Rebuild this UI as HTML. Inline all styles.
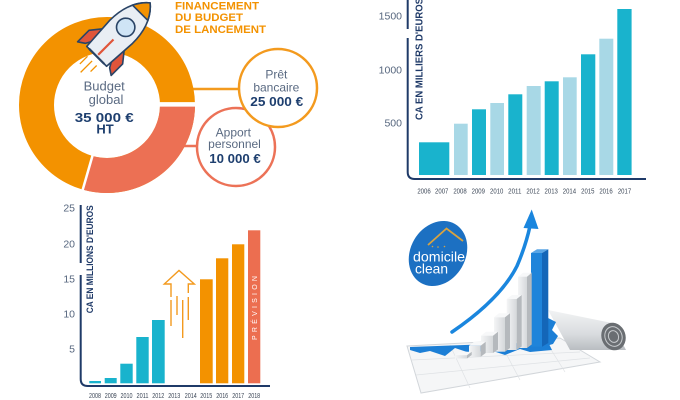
<!DOCTYPE html>
<html><head><meta charset="utf-8"><style>
html,body{margin:0;padding:0;background:#fff;}
svg{display:block;font-family:"Liberation Sans",sans-serif;}
</style></head><body>
<svg width="680" height="400" viewBox="0 0 680 400" xmlns="http://www.w3.org/2000/svg">
<rect width="680" height="400" fill="#fff"/>

<!-- ========== TOP-LEFT: donut ========== -->
<line x1="185" y1="89" x2="240" y2="89" stroke="#f39a1e" stroke-width="2.5"/>
<line x1="180" y1="146" x2="198" y2="146" stroke="#ec7257" stroke-width="2.5"/>
<circle cx="107" cy="105" r="70.5" fill="none" stroke="#f39200" stroke-width="35"/>
<path d="M177.5,105 A70.5,70.5 0 0 1 87.57,172.77" fill="none" stroke="#ec7054" stroke-width="35"/>
<line x1="155" y1="104.4" x2="198" y2="104.4" stroke="#fff" stroke-width="4.5"/>
<line x1="92.7" y1="155" x2="82.2" y2="191.5" stroke="#fff" stroke-width="2.5"/>

<!-- rocket -->
<g transform="translate(115,38) rotate(45) scale(1.08)" stroke="#2a4466" stroke-width="1.5" stroke-linejoin="round">
  <line x1="-6" y1="30" x2="-6" y2="40" stroke="#f39200" stroke-width="1.2"/>
  <line x1="0" y1="30" x2="0" y2="45" stroke="#f39200" stroke-width="1.2"/>
  <line x1="6" y1="30" x2="6" y2="38" stroke="#f39200" stroke-width="1.2"/>
  <path d="M-14,2 L-22,12 L-22,27 L-16,23 L-12,16 Z" fill="#e0553a"/>
  <path d="M14,2 L22,12 L22,27 L16,23 L12,16 Z" fill="#e0553a"/>
  <path d="M0,-46 C12,-36 15,-22 15,-8 L13,24 L-13,24 L-15,-8 C-15,-22 -12,-36 0,-46 Z" fill="#e9eef4"/>
  <path d="M0,-46 C5,-42 8,-37 10,-33 L-10,-33 C-8,-37 -5,-42 0,-46 Z" fill="#f39200"/>
  <circle cx="0" cy="-14" r="8.5" fill="#cfe4f5"/>
  <line x1="0" y1="2" x2="0" y2="22" stroke="#e0553a" stroke-width="2"/>
  <line x1="-10" y1="24" x2="10" y2="24" stroke-width="2"/>
</g>

<text font-weight="bold" font-size="11" fill="#f39200">
  <tspan x="175" y="9.5" textLength="84" lengthAdjust="spacingAndGlyphs">FINANCEMENT</tspan>
  <tspan x="175" y="21" textLength="68" lengthAdjust="spacingAndGlyphs">DU BUDGET</tspan>
  <tspan x="175" y="33" textLength="91" lengthAdjust="spacingAndGlyphs">DE LANCEMENT</tspan>
</text>

<text text-anchor="middle" font-size="13" fill="#5a6a82">
  <tspan x="106" y="90.5">Budget</tspan>
  <tspan x="106" y="104">global</tspan>
</text>
<text text-anchor="middle" font-size="13" font-weight="bold" fill="#1e3f6f">
  <tspan x="106" y="122" textLength="59" lengthAdjust="spacingAndGlyphs">35 000 €</tspan>
  <tspan x="105" y="133.5">HT</tspan>
</text>

<circle cx="236" cy="147" r="39" fill="#fff" stroke="#ec7257" stroke-width="2.5"/>
<circle cx="278" cy="88" r="39" fill="#fff" stroke="#f39a1e" stroke-width="2.5"/>

<text text-anchor="middle" font-size="12" fill="#5a6a82">
  <tspan x="278" y="78.3">Prêt</tspan>
  <tspan x="278" y="91.7">bancaire</tspan>
  <tspan x="235" y="136.5">Apport</tspan>
  <tspan x="234.5" y="148">personnel</tspan>
</text>
<text text-anchor="middle" font-size="12.5" font-weight="bold" fill="#1e3f6f">
  <tspan x="278.5" y="106" textLength="53" lengthAdjust="spacingAndGlyphs">25 000 €</tspan>
  <tspan x="235" y="163" textLength="51.5" lengthAdjust="spacingAndGlyphs">10 000 €</tspan>
</text>

<!-- ========== TOP-RIGHT: bar chart ========== -->
<g fill="#19b3cd">
  <rect x="419" y="142.3" width="30.3" height="32.7"/>
  <rect x="472" y="109.3" width="14" height="65.7"/>
  <rect x="508.3" y="94.3" width="14" height="80.7"/>
  <rect x="544.7" y="81.3" width="14" height="93.7"/>
  <rect x="581" y="54.3" width="14.3" height="120.7"/>
  <rect x="617.3" y="9" width="14.3" height="166"/>
</g>
<g fill="#a8d8e6">
  <rect x="454" y="123.7" width="13.7" height="51.3"/>
  <rect x="490.3" y="103" width="13.7" height="72"/>
  <rect x="526.7" y="86" width="14" height="89"/>
  <rect x="563" y="77.3" width="13.7" height="97.7"/>
  <rect x="599.3" y="38.7" width="14" height="136.3"/>
</g>
<path d="M407.7,0 V29 M407.7,38 V172 Q407.7,179 414.7,179 H646" fill="none" stroke="#1f3a68" stroke-width="2"/>
<text transform="translate(422.5,120) rotate(-90)" font-size="10" font-weight="bold" fill="#1f3a68" textLength="122" lengthAdjust="spacingAndGlyphs">CA EN MILLIERS D'EUROS</text>
<g font-size="10.5" fill="#56667e" text-anchor="end">
  <text x="402" y="19.5">1500</text>
  <text x="402" y="73.5">1000</text>
  <text x="402" y="126.5">500</text>
</g>
<g font-size="7.5" fill="#3b4656" text-anchor="middle">
  <text x="424" y="193.5" textLength="13.3" lengthAdjust="spacingAndGlyphs">2006</text>
  <text x="441.7" y="193.5" textLength="13.3" lengthAdjust="spacingAndGlyphs">2007</text>
  <text x="460" y="193.5" textLength="13.3" lengthAdjust="spacingAndGlyphs">2008</text>
  <text x="478.3" y="193.5" textLength="13.3" lengthAdjust="spacingAndGlyphs">2009</text>
  <text x="496.7" y="193.5" textLength="13.3" lengthAdjust="spacingAndGlyphs">2010</text>
  <text x="514.8" y="193.5" textLength="13.3" lengthAdjust="spacingAndGlyphs">2011</text>
  <text x="533" y="193.5" textLength="13.3" lengthAdjust="spacingAndGlyphs">2012</text>
  <text x="551.2" y="193.5" textLength="13.3" lengthAdjust="spacingAndGlyphs">2013</text>
  <text x="569.4" y="193.5" textLength="13.3" lengthAdjust="spacingAndGlyphs">2014</text>
  <text x="587.8" y="193.5" textLength="13.3" lengthAdjust="spacingAndGlyphs">2015</text>
  <text x="606" y="193.5" textLength="13.3" lengthAdjust="spacingAndGlyphs">2016</text>
  <text x="624.5" y="193.5" textLength="13.3" lengthAdjust="spacingAndGlyphs">2017</text>
</g>

<!-- ========== BOTTOM-LEFT: bar chart ========== -->
<g fill="#19b3cd">
  <rect x="89.3" y="381" width="11.7" height="2.3"/>
  <rect x="104.7" y="378" width="12" height="5.3"/>
  <rect x="120.3" y="363.7" width="12.4" height="19.6"/>
  <rect x="136.3" y="337" width="12.4" height="46.3"/>
  <rect x="152" y="320" width="12.7" height="63.3"/>
</g>
<g fill="#f39200">
  <rect x="200" y="279.3" width="12.7" height="104"/>
  <rect x="216" y="258.3" width="12.3" height="125"/>
  <rect x="232" y="244.3" width="12.3" height="139"/>
</g>
<rect x="248" y="230.3" width="12.3" height="153" fill="#ec6e50"/>
<text transform="translate(257,340) rotate(-90)" font-size="7" fill="#fff" textLength="64" lengthAdjust="spacing">PRÉVISION</text>

<!-- arrow -->
<g fill="none" stroke="#f39a1e" stroke-width="1.4" stroke-linejoin="miter">
  <path d="M171,297 V284 H164.3 L179,270.5 L194.3,284 H188.3 V293"/>
  <line x1="171" y1="300" x2="171" y2="326"/>
  <line x1="177" y1="296" x2="177" y2="315"/>
  <line x1="182.7" y1="300" x2="182.7" y2="338"/>
  <line x1="188.3" y1="297" x2="188.3" y2="320"/>
</g>

<path d="M80.7,205 V263 M80.7,275 V379 Q80.7,386 87.7,386 H270" fill="none" stroke="#1f3a68" stroke-width="2"/>
<text transform="translate(93,313.3) rotate(-90)" font-size="9.5" font-weight="bold" fill="#1f3a68" textLength="108" lengthAdjust="spacingAndGlyphs">CA EN MILLIONS D'EUROS</text>
<g font-size="10.5" fill="#56667e" text-anchor="end">
  <text x="75" y="211.5">25</text>
  <text x="75" y="247.5">20</text>
  <text x="75" y="282.5">15</text>
  <text x="75" y="317.5">10</text>
  <text x="75" y="352.5">5</text>
</g>
<g font-size="7" fill="#3b4656" text-anchor="middle">
  <text x="95" y="398" textLength="12" lengthAdjust="spacingAndGlyphs">2008</text>
  <text x="110.7" y="398" textLength="12" lengthAdjust="spacingAndGlyphs">2009</text>
  <text x="126.5" y="398" textLength="12" lengthAdjust="spacingAndGlyphs">2010</text>
  <text x="142.5" y="398" textLength="12" lengthAdjust="spacingAndGlyphs">2011</text>
  <text x="158.3" y="398" textLength="12" lengthAdjust="spacingAndGlyphs">2012</text>
  <text x="174.3" y="398" textLength="12" lengthAdjust="spacingAndGlyphs">2013</text>
  <text x="190.8" y="398" textLength="12" lengthAdjust="spacingAndGlyphs">2014</text>
  <text x="206.3" y="398" textLength="12" lengthAdjust="spacingAndGlyphs">2015</text>
  <text x="222.2" y="398" textLength="12" lengthAdjust="spacingAndGlyphs">2016</text>
  <text x="238.2" y="398" textLength="12" lengthAdjust="spacingAndGlyphs">2017</text>
  <text x="254.2" y="398" textLength="12" lengthAdjust="spacingAndGlyphs">2018</text>
</g>

<!-- ========== BOTTOM-RIGHT: illustration ========== -->
<defs>
  <linearGradient id="fr" x1="0" y1="0" x2="1" y2="0">
    <stop offset="0" stop-color="#f4f5f6"/><stop offset="1" stop-color="#d5d8db"/>
  </linearGradient>
  <linearGradient id="roll" x1="0" y1="0" x2="0" y2="1">
    <stop offset="0" stop-color="#f2f3f4"/><stop offset="0.6" stop-color="#d9dcdf"/><stop offset="1" stop-color="#b9bdc1"/>
  </linearGradient>
</defs>
<!-- paper -->
<polygon points="407,346 560,338 600,362 421,393" fill="#f5f6f7" stroke="#d2d6da" stroke-width="1"/>
<g stroke="#dfe2e5" stroke-width="0.7">
  <line x1="412" y1="360" x2="580" y2="352"/>
  <line x1="416" y1="375" x2="590" y2="358"/>
  <line x1="450" y1="345" x2="470" y2="388"/>
  <line x1="500" y1="342" x2="520" y2="380"/>
  <line x1="545" y1="340" x2="565" y2="372"/>
</g>
<!-- roll -->
<polygon points="548,310 612,323 626,350 570,350" fill="url(#roll)"/>
<ellipse cx="613.5" cy="336.5" rx="12" ry="14" transform="rotate(-20 613.5 336.5)" fill="#6a6e72"/>
<ellipse cx="613.5" cy="336.5" rx="8.5" ry="10" transform="rotate(-20 613.5 336.5)" fill="none" stroke="#c8cbce" stroke-width="1"/>
<ellipse cx="613.5" cy="336.5" rx="5" ry="6" transform="rotate(-20 613.5 336.5)" fill="none" stroke="#c8cbce" stroke-width="1"/>
<!-- blue area strip -->
<polygon points="410,347 548,342 552,350 530,352 520,349 505,355 490,350 470,353 455,348 445,356 430,351 420,353 410,350" fill="#1c7fd6"/>
<polygon points="548,318 556,322 552,330 558,336 553,344 546,346" fill="#1c7fd6"/>

<!-- blue bar -->
<polygon points="531,253 537,249.3 548.3,249.3 542,253" fill="#5aa6e6"/>
<rect x="531" y="253" width="11" height="93.7" fill="#1f84da"/>
<polygon points="542,253 548.3,249.3 548.3,343 542,346.7" fill="#1466b8"/>

<!-- white bars (back to front) -->
<g>
  <polygon points="518,276.7 523,272.7 531.7,272.7 527,276.7" fill="#f7f8f9"/>
  <rect x="518" y="276.7" width="9" height="71.3" fill="url(#fr)"/>
  <polygon points="527,276.7 531.7,272.7 531.7,344.5 527,348" fill="#b5b9bd"/>

  <polygon points="506.7,299 512,295 521.7,295 516.7,299" fill="#f7f8f9"/>
  <rect x="506.7" y="299" width="10" height="51" fill="url(#fr)"/>
  <polygon points="516.7,299 521.7,295 521.7,346.5 516.7,350" fill="#b5b9bd"/>

  <polygon points="494,317.3 499,313.3 510,313.3 505,317.3" fill="#f7f8f9"/>
  <rect x="494" y="317.3" width="11" height="34.4" fill="url(#fr)"/>
  <polygon points="505,317.3 510,313.3 510,348 505,351.7" fill="#b5b9bd"/>

  <polygon points="481,335.7 486,331.7 498,331.7 493,335.7" fill="#f7f8f9"/>
  <rect x="481" y="335.7" width="12" height="17.3" fill="url(#fr)"/>
  <polygon points="493,335.7 498,331.7 498,349.5 493,353" fill="#b5b9bd"/>

  <polygon points="469,345.7 474,341.7 485.7,341.7 480.7,345.7" fill="#f7f8f9"/>
  <rect x="469" y="345.7" width="11.7" height="11" fill="url(#fr)"/>
  <polygon points="480.7,345.7 485.7,341.7 485.7,353 480.7,356.7" fill="#b5b9bd"/>

  <polygon points="455,355.2 459.5,351.7 471.7,351.7 467,355.2" fill="#f7f8f9"/>
  <rect x="455" y="355.2" width="12" height="3.3" fill="url(#fr)"/>
  <polygon points="467,355.2 471.7,351.7 471.7,355 467,358.5" fill="#b5b9bd"/>
</g>

<!-- blue curved arrow -->
<path d="M452,332 C480,313 505,290 517,266 C523,252 527,240 530,226" fill="none" stroke="#1a86de" stroke-width="3.5" stroke-linecap="round"/>
<polygon points="531.7,209.5 523.5,228 538.5,229" fill="#1a86de"/>

<!-- logo -->
<ellipse cx="438" cy="253.5" rx="34" ry="27.5" transform="rotate(-60 438 253.5)" fill="#1c70c2"/>
<polyline points="428,245 446.5,228.5 463,241" fill="none" stroke="#d9a340" stroke-width="1.8"/>
<g fill="#d9a340"><circle cx="432.5" cy="246.5" r="0.8"/><circle cx="438" cy="247" r="0.8"/><circle cx="444.5" cy="246.5" r="0.8"/></g>
<text x="413" y="261.5" font-size="14" fill="#fff" textLength="52" lengthAdjust="spacingAndGlyphs">domicile</text>
<text x="415" y="273.5" font-size="14" fill="#fff" textLength="33" lengthAdjust="spacingAndGlyphs">clean</text>
</svg>
</body></html>
